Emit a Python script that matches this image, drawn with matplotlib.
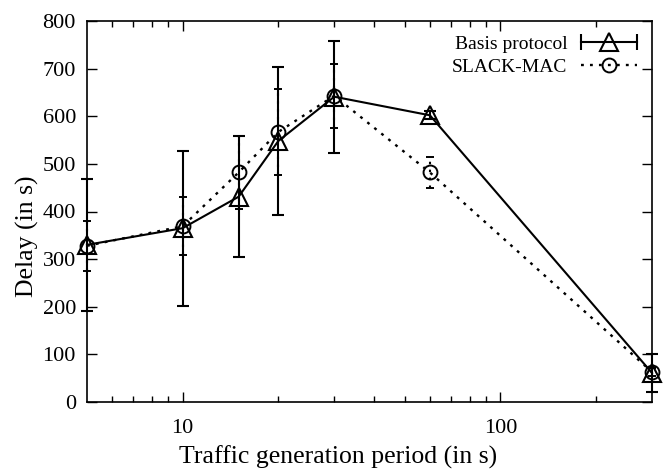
import matplotlib.pyplot as plt
from matplotlib.ticker import FixedLocator, NullFormatter
from matplotlib.lines import Line2D
from matplotlib.legend_handler import HandlerLine2D, HandlerTuple

plt.rcParams['font.family'] = ['Liberation Serif', 'DejaVu Serif']

# traffic generation period (s) and mean delay (s)
periods = [5, 10, 15, 20, 30, 60, 300]
basis = [330, 365, 431, 548, 641, 602, 61]
basis_err = [138, 163, 127, 156, 118, 8, 40]
slack = [328, 369, 482, 567, 643, 482, 63]
slack_err = [52, 61, 76, 90, 67, 33, 8]

dots = (0, (1.2, 2.6))

fig = plt.figure(figsize=(6.7, 4.7), dpi=100)
ax = fig.add_axes([87 / 670, 68 / 470, 565 / 670, 381 / 470])

eb1 = ax.errorbar(periods, basis, yerr=basis_err, color='black', lw=1.5,
                  elinewidth=1.5, capsize=4.5, capthick=1.5,
                  marker='^', ms=13, mfc='none', mec='black', mew=1.5,
                  zorder=3, clip_on=False)
eb2 = ax.errorbar(periods, slack, yerr=slack_err, color='black', lw=1.7,
                  ls=dots, elinewidth=1.5, capsize=3, capthick=1.3,
                  marker='o', ms=10, mfc='none', mec='black', mew=1.4,
                  zorder=4, clip_on=False)
eb2[2][0].set_linestyle(dots)
for art in list(eb1[1]) + list(eb1[2]) + list(eb2[1]) + list(eb2[2]):
    art.set_clip_on(False)

ax.set_xscale('log')
ax.set_xlim(5, 300)
ax.set_ylim(0, 800)
ax.xaxis.set_major_locator(FixedLocator([10, 100]))
ax.xaxis.set_minor_locator(FixedLocator([6, 7, 8, 9, 20, 30, 40, 50, 60, 70, 80, 90, 200]))
ax.xaxis.set_minor_formatter(NullFormatter())
ax.set_xticklabels(['10', '100'])
ax.set_yticks(range(0, 801, 100))

ax.tick_params(which='both', direction='in', top=True, right=True,
               labelsize=16, width=1)
ax.tick_params(axis='x', pad=12)
ax.tick_params(axis='y', pad=8)
ax.tick_params(which='major', length=7)
ax.tick_params(which='minor', length=4)
for s in ax.spines.values():
    s.set_linewidth(1.2)

fig.text(338 / 670, 1 - 457 / 470, 'Traffic generation period (in s)',
         ha='center', va='center', fontsize=18.5)
fig.text(27 / 670, 1 - 236 / 470, 'Delay (in s)', rotation=90,
         ha='center', va='center', fontsize=18.5)

# legend samples drawn gnuplot-style: right of the text, error bar caps on the first
caps = Line2D([], [], color='black', lw=1.5, marker='|', ms=11, mew=1.5)
tri = Line2D([], [], ls='none', marker='^', ms=13, mfc='none', mec='black', mew=1.5)
circ = Line2D([], [], color='black', lw=1.7, ls=dots, marker='o', ms=10,
              mfc='none', mec='black', mew=1.4)
ax.legend([(caps, tri), circ], ['Basis protocol', 'SLACK-MAC'], loc='upper right',
          frameon=False, markerfirst=False, fontsize=14, handlelength=2.9,
          handletextpad=0.7, labelspacing=0.25, borderaxespad=0.35,
          handler_map={caps: HandlerLine2D(numpoints=2, marker_pad=0.0),
                       tri: HandlerLine2D(numpoints=1),
                       tuple: HandlerTuple(ndivide=1)})

fig.savefig('out.png', dpi=100)
